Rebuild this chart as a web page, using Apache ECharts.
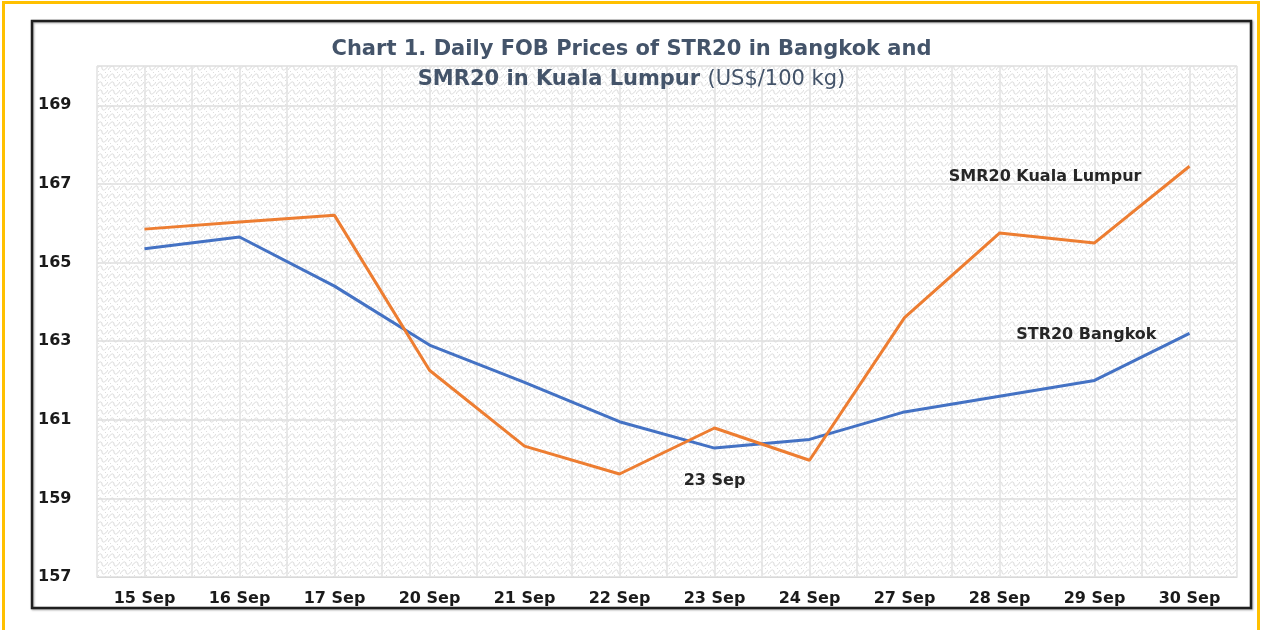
<!DOCTYPE html>
<html>
<head>
<meta charset="utf-8">
<title>Daily FOB Prices of STR20 and SMR20</title>
<script src="https://cdn.jsdelivr.net/npm/echarts@6/dist/echarts.min.js"></script>
<style>
  html, body { margin: 0; padding: 0; background: #fff; }
  #chart { width: 1263px; height: 630px; }
</style>
</head>
<body>
<div id="chart"></div>
<script>
// dates on the x axis
const days = ["15 Sep", "16 Sep", "17 Sep", "20 Sep", "21 Sep", "22 Sep",
  "23 Sep", "24 Sep", "27 Sep", "28 Sep", "29 Sep", "30 Sep"];
// STR20 Bangkok, US$/100 kg
const str20 = [165.35, 165.65, 164.4, 162.9, 161.95, 160.95,
  160.28, 160.5, 161.2, 161.6, 162.0, 163.2];
// SMR20 Kuala Lumpur, US$/100 kg
const smr20 = [165.85, 166.03, 166.2, 162.26, 160.33, 159.62,
  160.79, 159.97, 163.6, 165.75, 165.5, 167.45];

// small wave texture for the plot background, like the excel fill
function waveTile() {
  const c = document.createElement("canvas");
  c.width = 12; c.height = 8;
  const g = c.getContext("2d");
  g.fillStyle = "#ffffff";
  g.fillRect(0, 0, 12, 8);
  g.strokeStyle = "#dadada";
  g.lineWidth = 1;
  g.beginPath();
  g.moveTo(0, 6);
  g.bezierCurveTo(3, 1, 6, 1, 6, 4);
  g.bezierCurveTo(6, 7, 9, 7, 12, 2);
  g.stroke();
  g.fillStyle = "#dedede";
  g.fillRect(2, 7, 1, 1);
  g.fillRect(9, 0, 1, 1);
  return c;
}

const dom = document.getElementById("chart");
const chart = echarts.init(dom);

const blue = "#4472C4";
const orange = "#ED7D31";
const labelStyle = {
  fontFamily: "DejaVu Sans",
  fontWeight: "bold",
  fontSize: 16,
  color: "#262626"
};

const strData = str20.map((v, i) => {
  if (i === days.length - 1) {
    return { value: v, label: Object.assign({ show: true, position: "left", distance: 33, offset: [0, 2], formatter: "STR20 Bangkok" }, labelStyle) };
  }
  if (days[i] === "23 Sep") {
    return { value: v, label: Object.assign({ show: true, position: "bottom", distance: 25, formatter: "23 Sep" }, labelStyle) };
  }
  return v;
});
const smrData = smr20.map((v, i) => {
  if (i === days.length - 1) {
    return { value: v, label: Object.assign({ show: true, position: "left", distance: 48, offset: [0, 11], formatter: "SMR20 Kuala Lumpur" }, labelStyle) };
  }
  return v;
});

const option = {
  animation: false,
  title: {
    text: "{b|Chart 1. Daily FOB Prices of STR20 in Bangkok and}\n{b|SMR20 in Kuala Lumpur }{n|(US$/100 kg)}",
    left: "center",
    top: 30,
    textStyle: {
      rich: {
        b: { fontFamily: "DejaVu Sans", fontWeight: "bold", fontSize: 21, color: "#44546A", lineHeight: 30 },
        n: { fontFamily: "DejaVu Sans", fontWeight: "normal", fontSize: 21, color: "#44546A", lineHeight: 30 }
      }
    }
  },
  graphic: [
    { type: "rect", shape: { x: 3.5, y: 2.5, width: 1255, height: 640 }, style: { fill: "none", stroke: "#FFC000", lineWidth: 3 }, silent: true },
    { type: "rect", shape: { x: 32, y: 21, width: 1219, height: 587 }, style: { fill: "none", stroke: "#1f1f1f", lineWidth: 2.5, shadowColor: "rgba(0,0,0,0.35)", shadowBlur: 2, shadowOffsetX: 1, shadowOffsetY: 1 }, silent: true, z: -1 }
  ],
  grid: {
    left: 97,
    right: 26,
    top: 66,
    bottom: 53,
    show: true,
    borderWidth: 0,
    backgroundColor: { image: waveTile(), repeat: "repeat" }
  },
  xAxis: [
    {
      type: "category",
      data: days,
      boundaryGap: true,
      axisLine: { show: true, lineStyle: { color: "#d9d9d9" } },
      axisTick: { show: false },
      splitLine: { show: false },
      axisLabel: {
        interval: 0,
        margin: 14,
        fontFamily: "DejaVu Sans",
        fontWeight: "bold",
        fontSize: 16,
        color: "#1a1a1a"
      }
    },
    {
      // hidden axis only for the vertical grid every half day
      type: "value",
      min: 0,
      max: 24,
      interval: 1,
      position: "bottom",
      axisLine: { show: false },
      axisTick: { show: false },
      axisLabel: { show: false },
      splitLine: { show: true, lineStyle: { color: "#e2e2e2", width: 1.5 } }
    }
  ],
  yAxis: {
    type: "value",
    min: 157,
    max: 170,
    interval: 2,
    axisLine: { show: false },
    axisTick: { show: false },
    splitLine: { show: true, lineStyle: { color: "#dedede", width: 1.5 } },
    axisLabel: {
      showMaxLabel: false,
      align: "left",
      margin: 59,
      fontFamily: "DejaVu Sans",
      fontWeight: "bold",
      fontSize: 16,
      color: "#1a1a1a"
    }
  },
  series: [
    {
      name: "STR20 Bangkok",
      type: "line",
      data: strData,
      symbol: "circle",
      symbolSize: 0,
      showSymbol: true,
      lineStyle: { color: blue, width: 3 },
      itemStyle: { color: blue },
      z: 3
    },
    {
      name: "SMR20 Kuala Lumpur",
      type: "line",
      data: smrData,
      symbol: "circle",
      symbolSize: 0,
      showSymbol: true,
      lineStyle: { color: orange, width: 3 },
      itemStyle: { color: orange },
      z: 4
    }
  ]
};

chart.setOption(option);
</script>
</body>
</html>
